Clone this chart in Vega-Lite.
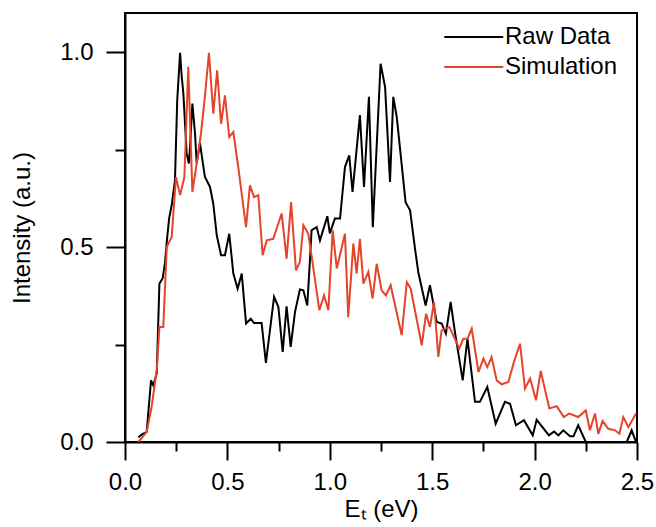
{
  "$schema": "https://vega.github.io/schema/vega-lite/v6.json",
  "width": 512,
  "height": 429,
  "autosize": {"type": "none"},
  "padding": {"left": 125, "top": 13, "right": 19, "bottom": 85},
  "background": "#ffffff",
  "config": {
    "view": {"stroke": "#000000", "strokeWidth": 2},
    "font": "Liberation Sans",
    "axis": {
      "grid": false,
      "domainColor": "#000000",
      "domainWidth": 2,
      "tickColor": "#000000",
      "tickWidth": 2,
      "labelColor": "#000000",
      "titleColor": "#000000",
      "labelFont": "Liberation Sans",
      "titleFont": "Liberation Sans",
      "labelFontSize": 24,
      "titleFontSize": 24,
      "titleFontWeight": "normal"
    },
    "legend": {
      "labelFont": "Liberation Sans",
      "labelFontSize": 24,
      "labelColor": "#000000"
    }
  },
  "data": {
    "values": [
      {"s":"Raw Data","x":0.065,"y":0.012},{"s":"Raw Data","x":0.085,"y":0.02},{"s":"Raw Data","x":0.106,"y":0.026},{"s":"Raw Data","x":0.127,"y":0.158},{"s":"Raw Data","x":0.138,"y":0.145},{"s":"Raw Data","x":0.155,"y":0.176},{"s":"Raw Data","x":0.168,"y":0.406},{"s":"Raw Data","x":0.184,"y":0.42},{"s":"Raw Data","x":0.195,"y":0.458},{"s":"Raw Data","x":0.207,"y":0.53},{"s":"Raw Data","x":0.216,"y":0.575},{"s":"Raw Data","x":0.228,"y":0.607},{"s":"Raw Data","x":0.244,"y":0.671},{"s":"Raw Data","x":0.255,"y":0.876},{"s":"Raw Data","x":0.269,"y":0.998},{"s":"Raw Data","x":0.277,"y":0.936},{"s":"Raw Data","x":0.285,"y":0.894},{"s":"Raw Data","x":0.301,"y":0.74},{"s":"Raw Data","x":0.312,"y":0.714},{"s":"Raw Data","x":0.318,"y":0.76},{"s":"Raw Data","x":0.329,"y":0.868},{"s":"Raw Data","x":0.342,"y":0.791},{"s":"Raw Data","x":0.35,"y":0.714},{"s":"Raw Data","x":0.366,"y":0.766},{"s":"Raw Data","x":0.39,"y":0.68},{"s":"Raw Data","x":0.415,"y":0.654},{"s":"Raw Data","x":0.431,"y":0.611},{"s":"Raw Data","x":0.448,"y":0.53},{"s":"Raw Data","x":0.469,"y":0.479},{"s":"Raw Data","x":0.488,"y":0.479},{"s":"Raw Data","x":0.509,"y":0.534},{"s":"Raw Data","x":0.529,"y":0.432},{"s":"Raw Data","x":0.55,"y":0.393},{"s":"Raw Data","x":0.57,"y":0.432},{"s":"Raw Data","x":0.591,"y":0.304},{"s":"Raw Data","x":0.614,"y":0.316},{"s":"Raw Data","x":0.63,"y":0.305},{"s":"Raw Data","x":0.667,"y":0.305},{"s":"Raw Data","x":0.688,"y":0.203},{"s":"Raw Data","x":0.728,"y":0.372},{"s":"Raw Data","x":0.749,"y":0.346},{"s":"Raw Data","x":0.77,"y":0.231},{"s":"Raw Data","x":0.789,"y":0.348},{"s":"Raw Data","x":0.809,"y":0.244},{"s":"Raw Data","x":0.83,"y":0.333},{"s":"Raw Data","x":0.854,"y":0.391},{"s":"Raw Data","x":0.871,"y":0.389},{"s":"Raw Data","x":0.89,"y":0.35},{"s":"Raw Data","x":0.903,"y":0.466},{"s":"Raw Data","x":0.911,"y":0.543},{"s":"Raw Data","x":0.936,"y":0.551},{"s":"Raw Data","x":0.952,"y":0.517},{"s":"Raw Data","x":0.988,"y":0.579},{"s":"Raw Data","x":1.0,"y":0.535},{"s":"Raw Data","x":1.025,"y":0.573},{"s":"Raw Data","x":1.05,"y":0.573},{"s":"Raw Data","x":1.074,"y":0.705},{"s":"Raw Data","x":1.095,"y":0.735},{"s":"Raw Data","x":1.111,"y":0.641},{"s":"Raw Data","x":1.147,"y":0.838},{"s":"Raw Data","x":1.167,"y":0.654},{"s":"Raw Data","x":1.191,"y":0.885},{"s":"Raw Data","x":1.21,"y":0.551},{"s":"Raw Data","x":1.248,"y":0.97},{"s":"Raw Data","x":1.27,"y":0.91},{"s":"Raw Data","x":1.294,"y":0.667},{"s":"Raw Data","x":1.31,"y":0.885},{"s":"Raw Data","x":1.327,"y":0.833},{"s":"Raw Data","x":1.37,"y":0.615},{"s":"Raw Data","x":1.392,"y":0.594},{"s":"Raw Data","x":1.416,"y":0.496},{"s":"Raw Data","x":1.432,"y":0.436},{"s":"Raw Data","x":1.468,"y":0.35},{"s":"Raw Data","x":1.489,"y":0.402},{"s":"Raw Data","x":1.522,"y":0.308},{"s":"Raw Data","x":1.546,"y":0.304},{"s":"Raw Data","x":1.567,"y":0.278},{"s":"Raw Data","x":1.59,"y":0.359},{"s":"Raw Data","x":1.611,"y":0.282},{"s":"Raw Data","x":1.649,"y":0.158},{"s":"Raw Data","x":1.672,"y":0.265},{"s":"Raw Data","x":1.709,"y":0.103},{"s":"Raw Data","x":1.733,"y":0.103},{"s":"Raw Data","x":1.769,"y":0.141},{"s":"Raw Data","x":1.81,"y":0.047},{"s":"Raw Data","x":1.855,"y":0.103},{"s":"Raw Data","x":1.88,"y":0.098},{"s":"Raw Data","x":1.909,"y":0.043},{"s":"Raw Data","x":1.948,"y":0.056},{"s":"Raw Data","x":1.991,"y":0.017},{"s":"Raw Data","x":2.01,"y":0.057},{"s":"Raw Data","x":2.07,"y":0.017},{"s":"Raw Data","x":2.095,"y":0.027},{"s":"Raw Data","x":2.116,"y":0.017},{"s":"Raw Data","x":2.14,"y":0.03},{"s":"Raw Data","x":2.173,"y":0.015},{"s":"Raw Data","x":2.19,"y":0.015},{"s":"Raw Data","x":2.213,"y":0.043},{"s":"Raw Data","x":2.25,"y":0.0},{"s":"Raw Data","x":2.45,"y":0.0},{"s":"Raw Data","x":2.474,"y":0.03},{"s":"Raw Data","x":2.495,"y":0.0},
      {"s":"Simulation","x":0.065,"y":0.0},{"s":"Simulation","x":0.106,"y":0.026},{"s":"Simulation","x":0.13,"y":0.09},{"s":"Simulation","x":0.155,"y":0.184},{"s":"Simulation","x":0.168,"y":0.295},{"s":"Simulation","x":0.187,"y":0.295},{"s":"Simulation","x":0.204,"y":0.5},{"s":"Simulation","x":0.228,"y":0.526},{"s":"Simulation","x":0.249,"y":0.679},{"s":"Simulation","x":0.269,"y":0.633},{"s":"Simulation","x":0.29,"y":0.679},{"s":"Simulation","x":0.309,"y":0.962},{"s":"Simulation","x":0.329,"y":0.641},{"s":"Simulation","x":0.35,"y":0.714},{"s":"Simulation","x":0.371,"y":0.791},{"s":"Simulation","x":0.39,"y":0.885},{"s":"Simulation","x":0.41,"y":0.998},{"s":"Simulation","x":0.431,"y":0.842},{"s":"Simulation","x":0.45,"y":0.953},{"s":"Simulation","x":0.469,"y":0.816},{"s":"Simulation","x":0.488,"y":0.889},{"s":"Simulation","x":0.509,"y":0.782},{"s":"Simulation","x":0.529,"y":0.795},{"s":"Simulation","x":0.553,"y":0.705},{"s":"Simulation","x":0.591,"y":0.551},{"s":"Simulation","x":0.61,"y":0.658},{"s":"Simulation","x":0.63,"y":0.628},{"s":"Simulation","x":0.651,"y":0.633},{"s":"Simulation","x":0.672,"y":0.479},{"s":"Simulation","x":0.692,"y":0.517},{"s":"Simulation","x":0.724,"y":0.521},{"s":"Simulation","x":0.765,"y":0.586},{"s":"Simulation","x":0.789,"y":0.47},{"s":"Simulation","x":0.811,"y":0.615},{"s":"Simulation","x":0.835,"y":0.44},{"s":"Simulation","x":0.854,"y":0.462},{"s":"Simulation","x":0.871,"y":0.556},{"s":"Simulation","x":0.895,"y":0.534},{"s":"Simulation","x":0.907,"y":0.492},{"s":"Simulation","x":0.949,"y":0.338},{"s":"Simulation","x":0.972,"y":0.376},{"s":"Simulation","x":0.993,"y":0.338},{"s":"Simulation","x":1.014,"y":0.543},{"s":"Simulation","x":1.034,"y":0.445},{"s":"Simulation","x":1.074,"y":0.534},{"s":"Simulation","x":1.09,"y":0.32},{"s":"Simulation","x":1.115,"y":0.509},{"s":"Simulation","x":1.131,"y":0.432},{"s":"Simulation","x":1.147,"y":0.521},{"s":"Simulation","x":1.164,"y":0.406},{"s":"Simulation","x":1.188,"y":0.436},{"s":"Simulation","x":1.209,"y":0.368},{"s":"Simulation","x":1.229,"y":0.457},{"s":"Simulation","x":1.253,"y":0.389},{"s":"Simulation","x":1.274,"y":0.376},{"s":"Simulation","x":1.297,"y":0.402},{"s":"Simulation","x":1.351,"y":0.274},{"s":"Simulation","x":1.376,"y":0.41},{"s":"Simulation","x":1.395,"y":0.393},{"s":"Simulation","x":1.449,"y":0.248},{"s":"Simulation","x":1.47,"y":0.329},{"s":"Simulation","x":1.489,"y":0.295},{"s":"Simulation","x":1.509,"y":0.359},{"s":"Simulation","x":1.53,"y":0.218},{"s":"Simulation","x":1.546,"y":0.286},{"s":"Simulation","x":1.584,"y":0.295},{"s":"Simulation","x":1.632,"y":0.24},{"s":"Simulation","x":1.652,"y":0.265},{"s":"Simulation","x":1.672,"y":0.265},{"s":"Simulation","x":1.693,"y":0.291},{"s":"Simulation","x":1.726,"y":0.179},{"s":"Simulation","x":1.75,"y":0.214},{"s":"Simulation","x":1.769,"y":0.192},{"s":"Simulation","x":1.79,"y":0.218},{"s":"Simulation","x":1.815,"y":0.158},{"s":"Simulation","x":1.839,"y":0.148},{"s":"Simulation","x":1.872,"y":0.154},{"s":"Simulation","x":1.899,"y":0.205},{"s":"Simulation","x":1.929,"y":0.252},{"s":"Simulation","x":1.953,"y":0.137},{"s":"Simulation","x":1.978,"y":0.163},{"s":"Simulation","x":2.007,"y":0.107},{"s":"Simulation","x":2.03,"y":0.182},{"s":"Simulation","x":2.072,"y":0.086},{"s":"Simulation","x":2.108,"y":0.092},{"s":"Simulation","x":2.143,"y":0.064},{"s":"Simulation","x":2.169,"y":0.073},{"s":"Simulation","x":2.213,"y":0.064},{"s":"Simulation","x":2.25,"y":0.081},{"s":"Simulation","x":2.27,"y":0.03},{"s":"Simulation","x":2.295,"y":0.073},{"s":"Simulation","x":2.311,"y":0.021},{"s":"Simulation","x":2.332,"y":0.054},{"s":"Simulation","x":2.36,"y":0.034},{"s":"Simulation","x":2.393,"y":0.03},{"s":"Simulation","x":2.414,"y":0.021},{"s":"Simulation","x":2.433,"y":0.064},{"s":"Simulation","x":2.458,"y":0.038},{"s":"Simulation","x":2.495,"y":0.073}
    ]
  },
  "mark": {"type": "line", "strokeWidth": 2, "clip": true},
  "encoding": {
    "x": {
      "field": "x",
      "type": "quantitative",
      "scale": {"domain": [0, 2.5], "nice": false, "zero": false},
      "axis": {
        "title": "Eₜ (eV)",
        "values": [0, 0.25, 0.5, 0.75, 1.0, 1.25, 1.5, 1.75, 2.0, 2.25, 2.5],
        "labelExpr": "datum.value % 0.5 == 0 ? format(datum.value, '.1f') : ''",
        "tickSize": {"condition": {"test": "datum.value % 0.5 != 0", "value": 9}, "value": 18},
        "labelPadding": 10,
        "labelFlush": false,
        "labelOverlap": false,
        "titlePadding": 3
      }
    },
    "y": {
      "field": "y",
      "type": "quantitative",
      "scale": {"domain": [0, 1.1], "nice": false},
      "axis": {
        "title": "Intensity (a.u.)",
        "values": [0, 0.25, 0.5, 0.75, 1.0],
        "labelExpr": "datum.value % 0.5 == 0 ? format(datum.value, '.1f') : ''",
        "tickSize": {"condition": {"test": "datum.value % 0.5 != 0", "value": 10}, "value": 19},
        "labelPadding": 13,
        "labelOverlap": false,
        "titlePadding": 25
      }
    },
    "color": {
      "field": "s",
      "type": "nominal",
      "scale": {"domain": ["Raw Data", "Simulation"], "range": ["#000000", "#e4432c"]},
      "legend": {
        "title": null,
        "orient": "none",
        "legendX": 318,
        "legendY": 8,
        "symbolType": "M-1,0H3",
        "symbolSize": 870,
        "symbolStrokeWidth": 2,
        "labelOffset": 30,
        "rowPadding": 2,
        "padding": 0
      }
    }
  }
}
